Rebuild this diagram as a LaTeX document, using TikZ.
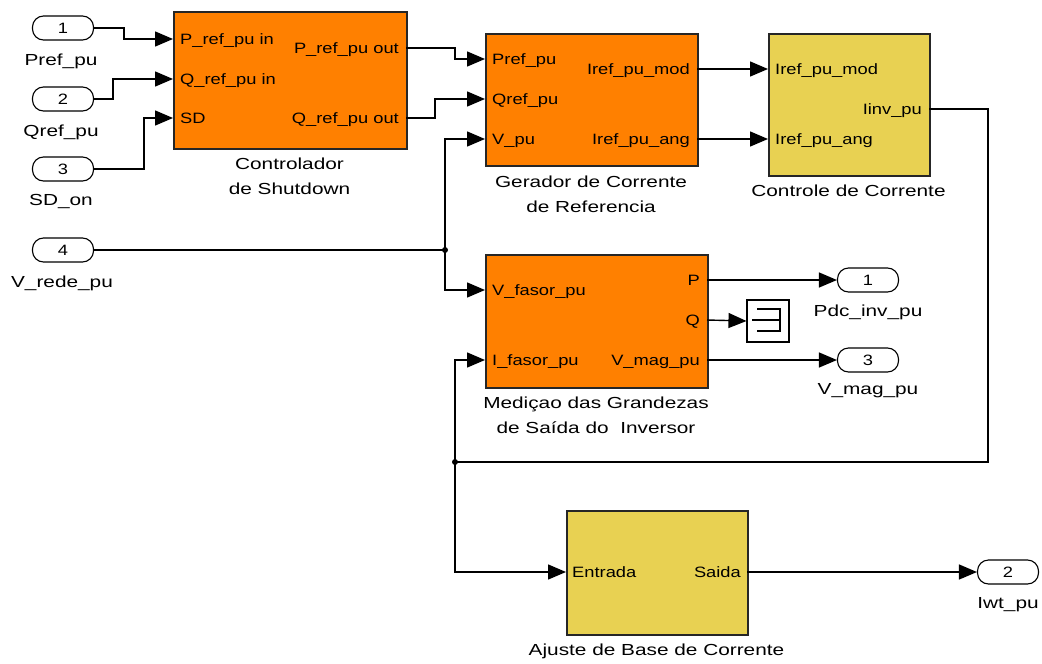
\documentclass[tikz,border=0pt]{standalone}
\usepackage{fontspec}
\setmainfont{Liberation Sans}
\newfontfamily\pf[FakeStretch=1.22]{Liberation Sans}
\newfontfamily\lf[FakeStretch=1.3]{Liberation Sans}
\usetikzlibrary{arrows.meta}
\definecolor{blkorange}{HTML}{FF8000}
\definecolor{blkyellow}{HTML}{E8D152}
\begin{document}
\begin{tikzpicture}[x=1pt,y=-1pt,
  oblock/.style={draw=black!85, line width=1.8pt, fill=blkorange, anchor=north west, inner sep=0pt},
  yblock/.style={oblock, fill=blkyellow},
  port/.style={draw, line width=1.1pt, rounded corners=11pt, minimum width=61pt, minimum height=24pt, inner sep=0pt, font=\pf\fontsize{15}{18}\selectfont, text height=10.7pt, text depth=0pt},
  ptxt/.style={inner sep=0pt, font=\pf\fontsize{15}{18}\selectfont, text height=10.7pt, text depth=0pt},
  lbl/.style={inner sep=0pt, align=center, anchor=north, font=\lf\fontsize{16}{25}\selectfont},
  sig/.style={line width=1.4pt, -{Triangle[length=18pt,width=15pt]}},
  wire/.style={line width=1.4pt},
  dot/.style={circle, fill, inner sep=0pt, minimum size=6pt}
]
\useasboundingbox[fill=white] (0,0) rectangle (1042,664);

% ---------- inports ----------
\node[port] (in1) at (63,28) {1};
\node[port] (in2) at (63,99) {2};
\node[port] (in3) at (63,169) {3};
\node[port] (in4) at (63,250) {4};
\node[lbl] (in1l) at (61,54) {Pref\_pu};
\node[lbl] (in2l) at (61,125) {Qref\_pu};
\node[lbl] (in3l) at (61,194) {SD\_on};
\node[lbl] (in4l) at (62,276) {V\_rede\_pu};

% ---------- outports ----------
\node[port] (out1) at (868,280) {1};
\node[port] (out3) at (868,360) {3};
\node[port] (out2) at (1008,572) {2};
\node[lbl] (out1l) at (868,305) {Pdc\_inv\_pu};
\node[lbl] (out3l) at (868,383) {V\_mag\_pu};
\node[lbl] (out2l) at (1008,597) {Iwt\_pu};

% ---------- blocks ----------
\node[oblock, minimum width=233pt, minimum height=137pt] (ctrl) at (173,11) {};
\node[oblock, minimum width=212pt, minimum height=132pt] (gen) at (485,33) {};
\node[yblock, minimum width=161pt, minimum height=142pt] (cc) at (768,33) {};
\node[oblock, minimum width=222pt, minimum height=133pt] (med) at (485,254) {};
\node[yblock, minimum width=181pt, minimum height=124pt] (adj) at (566,510) {};

% port coordinates
\coordinate (c-i1) at (173,39);
\coordinate (c-i2) at (173,79);
\coordinate (c-i3) at (173,118);
\coordinate (c-o1) at (406,48);
\coordinate (c-o2) at (406,118);
\coordinate (g-i1) at (485,59);
\coordinate (g-i2) at (485,99);
\coordinate (g-i3) at (485,139);
\coordinate (g-o1) at (697,69);
\coordinate (g-o2) at (697,139);
\coordinate (cc-i1) at (768,69);
\coordinate (cc-i2) at (768,139);
\coordinate (cc-o) at (929,109);
\coordinate (m-i1) at (485,290);
\coordinate (m-i2) at (485,360);
\coordinate (m-o1) at (707,280);
\coordinate (m-o2) at (707,320);
\coordinate (m-o3) at (707,360);
\coordinate (a-i) at (566,572);
\coordinate (a-o) at (747,572);

% port texts
\node[ptxt, anchor=west] (t1) at (180,39) {P\_ref\_pu in};
\node[ptxt, anchor=west] (t2) at (180,79) {Q\_ref\_pu in};
\node[ptxt, anchor=west] (t3) at (180,118) {SD};
\node[ptxt, anchor=east] (t4) at (399,48) {P\_ref\_pu out};
\node[ptxt, anchor=east] (t5) at (399,118) {Q\_ref\_pu out};

\node[ptxt, anchor=west] (t6) at (492,59) {Pref\_pu};
\node[ptxt, anchor=west] (t7) at (492,99) {Qref\_pu};
\node[ptxt, anchor=west] (t8) at (492,139) {V\_pu};
\node[ptxt, anchor=east] (t9) at (690,69) {Iref\_pu\_mod};
\node[ptxt, anchor=east] (t10) at (690,139) {Iref\_pu\_ang};

\node[ptxt, anchor=west] (t11) at (775,69) {Iref\_pu\_mod};
\node[ptxt, anchor=west] (t12) at (775,139) {Iref\_pu\_ang};
\node[ptxt, anchor=east] (t13) at (922,109) {Iinv\_pu};

\node[ptxt, anchor=west] (t14) at (492,290) {V\_fasor\_pu};
\node[ptxt, anchor=west] (t15) at (492,360) {I\_fasor\_pu};
\node[ptxt, anchor=east] (t16) at (700,280) {P};
\node[ptxt, anchor=east] (t17) at (700,320) {Q};
\node[ptxt, anchor=east] (t18) at (700,360) {V\_mag\_pu};

\node[ptxt, anchor=west] (t19) at (572,572) {Entrada};
\node[ptxt, anchor=east] (t20) at (741,572) {Saida};

% block labels
\node[lbl] (ctrll) at (289.5,158) {Controlador\\de Shutdown};
\node[lbl] (genl) at (591,176) {Gerador de Corrente\\de Referencia};
\node[lbl] (ccl) at (848.5,185) {Controle de Corrente};
\node[lbl] (medl) at (596,397) {Mediçao das Grandezas\\de Saída do\ \ Inversor};
\node[lbl] (adjl) at (656.5,644) {Ajuste de Base de Corrente};

% terminator
\node[draw, line width=1.1pt, minimum width=42pt, minimum height=42pt, inner sep=0pt] (term) at (768,321) {};
\draw[line width=1.1pt] (757,309) -- (780,309) -- (780,331) -- (757,331);
\draw[line width=1.1pt] (752,320) -- (780,320);

% junctions
\coordinate (j1) at (445,250);
\coordinate (j2) at (455,462);

% ---------- wires ----------
\draw[sig] (in1.east) -- (124,28) |- (c-i1);
\draw[sig] (in2.east) -- (113,99) |- (c-i2);
\draw[sig] (in3.east) -- (144,169) |- (c-i3);
\draw[sig] (c-o1) -- (455,48) |- (g-i1);
\draw[sig] (c-o2) -- (435,118) |- (g-i2);
\draw[wire] (in4.east) -- (j1);
\draw[sig] (j1) |- (g-i3);
\draw[sig] (j1) |- (m-i1);
\draw[sig] (g-o1) -- (cc-i1);
\draw[sig] (g-o2) -- (cc-i2);
\draw[wire] (cc-o) -- (988,109) |- (j2);
\draw[sig] (j2) |- (m-i2);
\draw[sig] (j2) |- (a-i);
\draw[sig] (m-o1) -- (out1.west);
\draw[sig] (m-o2) -- (term.west);
\draw[sig] (m-o3) -- (out3.west);
\draw[sig] (a-o) -- (out2.west);
\node[dot] at (j1) {};
\node[dot] at (j2) {};
\end{tikzpicture}
\end{document}
